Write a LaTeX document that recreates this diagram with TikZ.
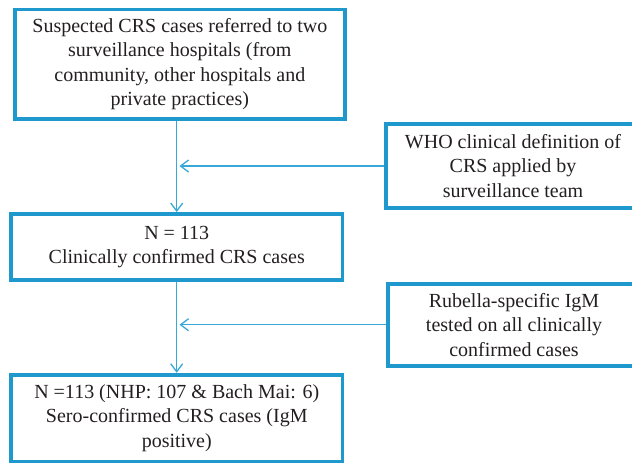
\documentclass[tikz,border=0pt]{standalone}
\usepackage{fontspec}
\setmainfont{Liberation Serif}
\usetikzlibrary{arrows.meta}
\definecolor{boxblue}{RGB}{30,152,205}
\definecolor{arrblue}{RGB}{55,168,218}
\definecolor{txt}{RGB}{35,31,32}
\begin{document}
\begin{tikzpicture}[x=1pt,y=-1pt,
  mainbox/.style={draw=boxblue, line width=3.8pt, inner sep=0pt, align=center,
    font=\fontsize{20}{24.5}\selectfont, text=txt},
  arr/.style={draw=arrblue, line width=1.3pt, -{Straight Barb[length=8pt,width=12pt,line width=1.3pt]}}]
\useasboundingbox (0,0) rectangle (632,463);
\clip (0,0) rectangle (632,463);
\node[mainbox, minimum width=330.3pt, minimum height=109.5pt] (b1) at (179.85,64.25)
  {Suspected CRS cases referred to two\\surveillance hospitals (from\\community, other hospitals and\\private practices)};
\node[mainbox, minimum width=331.5pt, minimum height=66pt] (b2) at (176.75,247)
  {N = 113\\Clinically confirmed CRS cases};
\node[mainbox, minimum width=331.5pt, minimum height=86.8pt] (b3) at (176.75,418.1)
  {N =113 (NHP: 107 \& Bach Mai: 6)\\Sero-confirmed CRS cases (IgM\\positive)};
\node[mainbox, minimum width=254pt, minimum height=84pt] (s1) at (513,166)
  {WHO clinical definition of\\CRS applied by\\surveillance team};
\node[mainbox, minimum width=252pt, minimum height=82pt] (s2) at (514,324.7)
  {Rubella-specific IgM\\tested on all clinically\\confirmed cases};
\coordinate (vx) at (176.7,0);
\coordinate (hx) at (179.5,0);
\draw[arr] (vx |- b1.south) -- (vx |- b2.north);
\draw[arr] (vx |- b2.south) -- (vx |- b3.north);
\draw[arr] (s1.west) -- (hx |- s1.west);
\draw[arr] (s2.west) -- (hx |- s2.west);
\end{tikzpicture}
\end{document}
